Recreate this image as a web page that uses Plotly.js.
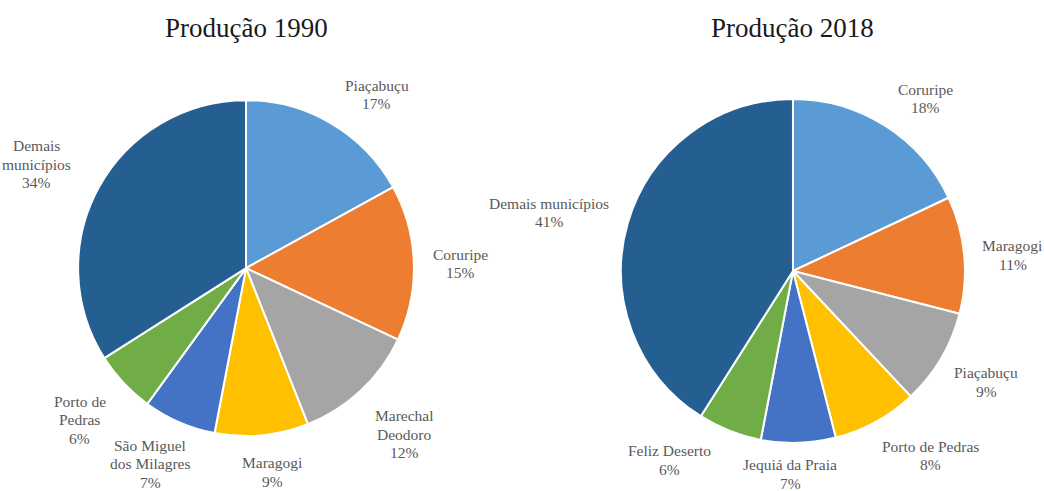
<!DOCTYPE html>
<html>
<head>
<meta charset="utf-8">
<script src="https://cdn.plot.ly/plotly-3.0.1.min.js"></script>
<style>html,body{margin:0;padding:0;background:#fff;}#chart{width:1044px;height:491px;}</style>
</head>
<body>
<div id="chart"></div>
<script>
// ---- data ----
const title1990 = 'Produção 1990';
const names1990 = ['Piaçabuçu', 'Coruripe', 'Marechal Deodoro', 'Maragogi', 'São Miguel dos Milagres', 'Porto de Pedras', 'Demais municípios'];
const lines1990 = ['Piaçabuçu', 'Coruripe', 'Marechal<br>Deodoro', 'Maragogi', 'São Miguel<br>dos Milagres', 'Porto de<br>Pedras', 'Demais<br>municípios'];
const values1990 = [17, 15, 12, 9, 7, 6, 34];

const title2018 = 'Produção 2018';
const names2018 = ['Coruripe', 'Maragogi', 'Piaçabuçu', 'Porto de Pedras', 'Jequiá da Praia', 'Feliz Deserto', 'Demais municípios'];
const lines2018 = ['Coruripe', 'Maragogi', 'Piaçabuçu', 'Porto de Pedras', 'Jequiá da Praia', 'Feliz Deserto', 'Demais municípios'];
const values2018 = [18, 11, 9, 8, 7, 6, 41];

const sliceColors = ['#5B9BD5', '#ED7D31', '#A5A5A5', '#FFC000', '#4472C4', '#70AD47', '#255E91'];

// ---- label placement tweaks (pixels) ----
const nudge1990 = [[20, 13], [2, 2], [4, 2], [7, -1.5], [-6, -12], [-4, -1], [-9, 6]];
const nudge2018 = [[14.5, 12.5], [0, 5], [-1, -4], [27, -16], [-9.5, -6], [-41.5, -17], [-2, 12]];

// ---- layout helpers ----
const W = 1044, H = 491;
const FONT = '"Liberation Serif", "Times New Roman", serif';
const LABEL_SIZE = 15.5, LINE_H = 18.5, GAP = 17;
const dom1990 = {x: [0.0747, 0.3966], y: [0.112, 0.796]};
const dom2018 = {x: [0.5948, 0.9243], y: [0.0978, 0.7984]};

const ctx = document.createElement('canvas').getContext('2d');
ctx.font = LABEL_SIZE + 'px "Liberation Serif"';

function labelAnnotations(dom, lines, values, nudge) {
  const cx = (dom.x[0] + dom.x[1]) / 2 * W;
  const cy = (1 - (dom.y[0] + dom.y[1]) / 2) * H;
  const R = Math.min((dom.x[1] - dom.x[0]) * W, (dom.y[1] - dom.y[0]) * H) / 2;
  const total = values.reduce((a, b) => a + b, 0);
  let cum = 0;
  const out = [];
  values.forEach((v, i) => {
    const mid = (cum + v / 2) / total * 2 * Math.PI;
    cum += v;
    const ux = Math.sin(mid), uy = -Math.cos(mid);
    const textLines = (lines[i] + '<br>' + v + '%').split('<br>');
    const w = Math.max(...textLines.map(t => ctx.measureText(t).width));
    const h = textLines.length * LINE_H;
    const ext = Math.abs(ux) * w / 2 + Math.abs(uy) * h / 2;
    const d = R + GAP + ext;
    const px = cx + ux * d + nudge[i][0];
    const py = cy + uy * d + nudge[i][1];
    const n = textLines.length;
    textLines.forEach((t, k) => {
      const ly = py + (k - (n - 1) / 2) * LINE_H;
      out.push({
        xref: 'paper', yref: 'paper', x: px / W, y: 1 - ly / H,
        xanchor: 'center', yanchor: 'middle', showarrow: false,
        text: t,
        font: {family: FONT, size: LABEL_SIZE, color: '#595959'}
      });
    });
  });
  return out;
}

function pieTrace(dom, names, values) {
  return {
    type: 'pie', labels: names, values: values, sort: false,
    direction: 'clockwise', rotation: 0, textinfo: 'none', hoverinfo: 'label+percent',
    marker: {colors: sliceColors, line: {color: '#ffffff', width: 2}},
    domain: dom, showlegend: false
  };
}

const data = [pieTrace(dom1990, names1990, values1990), pieTrace(dom2018, names2018, values2018)];

const annotations = [
  ...labelAnnotations(dom1990, lines1990, values1990, nudge1990),
  ...labelAnnotations(dom2018, lines2018, values2018, nudge2018),
  {xref: 'paper', yref: 'paper', x: (dom1990.x[0] + dom1990.x[1]) / 2, y: 1 - 28 / H, xanchor: 'center', yanchor: 'middle',
   showarrow: false, text: title1990, font: {family: FONT, size: 27, color: '#1a1a1a'}},
  {xref: 'paper', yref: 'paper', x: (dom2018.x[0] + dom2018.x[1]) / 2, y: 1 - 28 / H, xanchor: 'center', yanchor: 'middle',
   showarrow: false, text: title2018, font: {family: FONT, size: 27, color: '#1a1a1a'}}
];

const layout = {
  width: W, height: H,
  margin: {l: 0, r: 0, t: 0, b: 0},
  paper_bgcolor: '#ffffff', plot_bgcolor: '#ffffff',
  showlegend: false,
  annotations: annotations
};

Plotly.newPlot('chart', data, layout, {displayModeBar: false, staticPlot: true});
</script>
</body>
</html>
